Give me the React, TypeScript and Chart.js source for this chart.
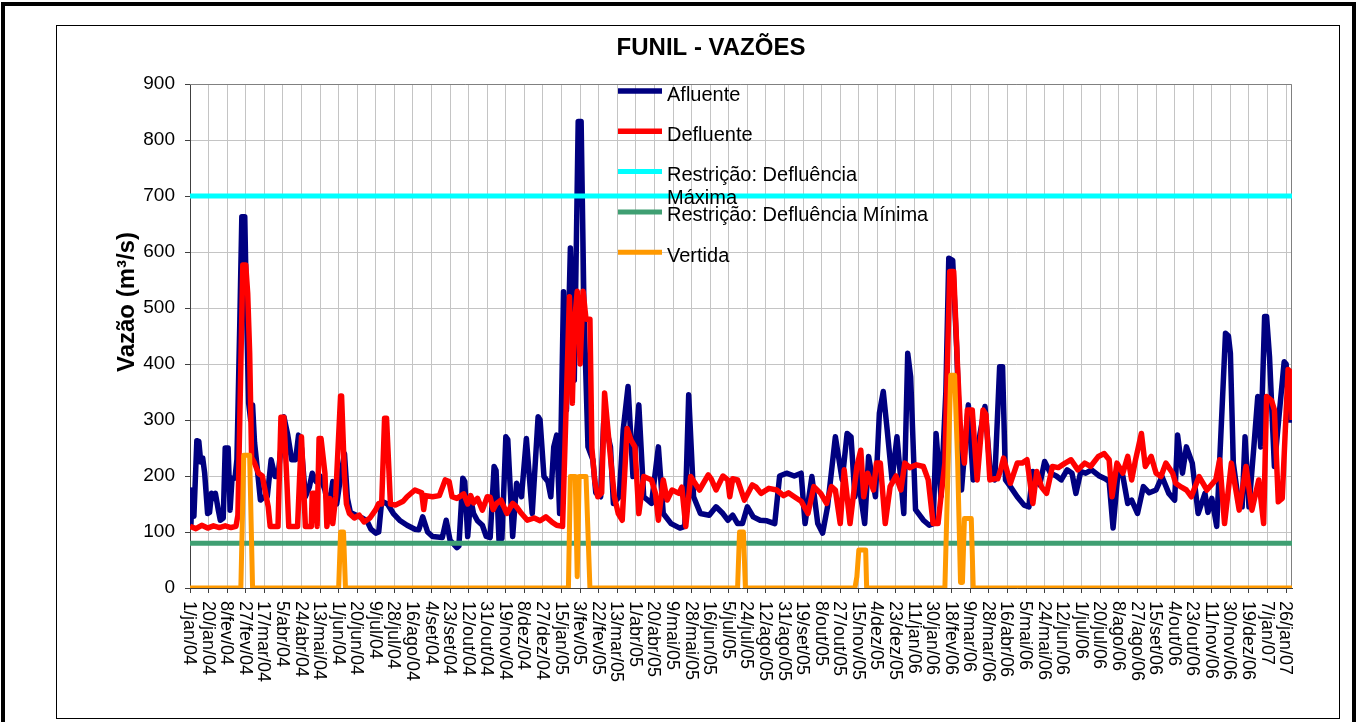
import React, { useEffect, useRef } from 'react';
import { Chart, registerables } from 'chart.js';

Chart.register(...registerables);

// ---------- DATA ----------
const TITLE = 'FUNIL - VAZÕES';
const Y_TITLE = 'Vazão (m³/s)';

const TICK_LABELS = [
  '1/jan/04', '20/jan/04', '8/fev/04', '27/fev/04', '17/mar/04', '5/abr/04', '24/abr/04', '13/mai/04',
  '1/jun/04', '20/jun/04', '9/jul/04', '28/jul/04', '16/ago/04', '4/set/04', '23/set/04', '12/out/04',
  '31/out/04', '19/nov/04', '8/dez/04', '27/dez/04', '15/jan/05', '3/fev/05', '22/fev/05', '13/mar/05',
  '1/abr/05', '20/abr/05', '9/mai/05', '28/mai/05', '16/jun/05', '5/jul/05', '24/jul/05', '12/ago/05',
  '31/ago/05', '19/set/05', '8/out/05', '27/out/05', '15/nov/05', '4/dez/05', '23/dez/05', '11/jan/06',
  '30/jan/06', '18/fev/06', '9/mar/06', '28/mar/06', '16/abr/06', '5/mai/06', '24/mai/06', '12/jun/06',
  '1/jul/06', '20/jul/06', '8/ago/06', '27/ago/06', '15/set/06', '4/out/06', '23/out/06', '11/nov/06',
  '30/nov/06', '19/dez/06', '7/jan/07', '26/jan/07',
];
const TICK_STEP_DAYS = 19; // one category label every 19 days (day 0 = 1/jan/04)
const LAST_DAY = 1127;

// Afluente (day index, m³/s)
const AFL_DAYS = [
  0, 1, 2, 4, 7, 9, 11, 13, 15, 18, 20, 22, 24, 26, 29, 31, 34, 36, 39, 41, 43, 46, 48, 51, 53, 56, 58, 60, 62, 64,
  66, 69, 72, 76, 79, 83, 87, 90, 93, 96, 100, 104, 108, 111, 114, 118, 122, 125, 129, 133, 138, 142, 146, 150, 155, 158,
  161, 164, 170, 176, 181, 185, 190, 193, 196, 202, 208, 215, 222, 230, 234, 238, 243, 248, 258, 262, 266, 270, 273, 275,
  279, 281, 284, 287, 290, 294, 299, 303, 307, 311, 313, 316, 319, 323, 325, 330, 334, 339, 344, 350, 356, 358, 362, 366,
  369, 372, 375, 378, 382, 385, 389, 393, 397, 400, 403, 407, 412, 415, 420, 423, 426, 430, 433, 439, 443, 448, 453, 459,
  464, 472, 479, 484, 492, 501, 506, 510, 515, 522, 531, 538, 545, 550, 555, 560, 565, 570, 576, 583, 590, 598, 603, 610,
  618, 625, 629, 636, 642, 647, 652, 660, 667, 672, 676, 680, 684, 686, 690, 694, 701, 705, 709, 713, 718, 723, 730, 734,
  737, 742, 750, 756, 760, 763, 768, 773, 776, 780, 784, 789, 796, 801, 808, 813, 818, 823, 828, 831, 834, 839, 846, 853,
  858, 862, 869, 874, 880, 886, 891, 897, 902, 906, 911, 916, 922, 930, 936, 940, 944, 949, 954, 959, 963, 969, 975, 981,
  988, 994, 1001, 1007, 1010, 1015, 1019, 1025, 1031, 1038, 1041, 1045, 1050, 1054, 1059, 1062, 1064, 1067, 1073, 1076,
  1079, 1083, 1088, 1092, 1095, 1099, 1101, 1104, 1109, 1114, 1119, 1121, 1124, 1127,
];
const AFL_VALS = [
  175, 115, 170, 128, 263, 262, 225, 232, 205, 133, 135, 169, 160, 169, 139, 121, 125, 250, 250, 139, 196, 196, 230, 480, 663, 663, 480, 330, 300, 327,
  260, 210, 157, 163, 163, 229, 199, 199, 250, 306, 273, 229, 229, 273, 250, 163, 180, 205, 190, 200, 175, 140, 190, 150, 210, 240,
  160, 135, 130, 125, 120, 105, 98, 100, 155, 150, 133, 120, 112, 105, 104, 127, 100, 92, 90, 121, 85, 78, 72, 75,
  196, 190, 92, 160, 133, 120, 112, 92, 90, 217, 210, 86, 88, 270, 265, 92, 187, 163, 267, 133, 306, 300, 199, 190,
  163, 252, 273, 133, 529, 318, 607, 371, 833, 833, 490, 252, 229, 170, 163, 294, 282, 252, 151, 163, 282, 360, 199, 327,
  163, 151, 252, 133, 115, 107, 110, 345, 163, 133, 130, 145, 133, 121, 130, 115, 115, 145, 127, 121, 120, 115, 200, 205,
  200, 205, 115, 199, 115, 98, 145, 270, 193, 276, 270, 163, 210, 163, 115, 235, 163, 312, 351, 282, 193, 270, 133, 419,
  377, 140, 121, 112, 115, 276, 163, 350, 589, 585, 431, 175, 327, 193, 276, 324, 217, 193, 395, 395, 193, 181, 163, 148,
  145, 208, 184, 226, 205, 200, 193, 211, 205, 169, 208, 205, 211, 200, 195, 190, 107, 205, 200, 151, 157, 133, 181, 170,
  175, 199, 169, 157, 273, 205, 252, 223, 133, 169, 135, 160, 110, 264, 455, 450, 419, 223, 145, 145,
  270, 145, 252, 342, 252, 485, 485, 413, 217, 312, 404, 400, 300, 300,
];

// Defluente (day index, m³/s)
const DEF_DAYS = [
  0, 6, 12, 18, 24, 30, 36, 42, 47, 49, 52, 54, 57, 59, 61, 63, 66, 70, 74, 76, 80, 82, 90, 93, 96, 99, 101, 110, 112, 114,
  116, 118, 124, 125, 128, 130, 132, 134, 138, 140, 143, 146, 149, 154, 155, 158, 160, 163, 168, 173, 178, 184, 190, 193, 196, 199,
  201, 205, 210, 218, 222, 230, 237, 239, 241, 248, 255, 261, 265, 268, 273, 280, 284, 287, 290, 294, 299, 304, 307, 310,
  313, 318, 324, 330, 334, 339, 345, 352, 358, 364, 370, 375, 381, 385, 388, 391, 393, 396, 399, 402, 405, 409, 411, 414,
  417, 421, 424, 429, 434, 438, 442, 447, 451, 455, 459, 464, 472, 476, 479, 484, 488, 493, 500, 503, 507, 512, 521, 530,
  533, 538, 545, 550, 552, 555, 560, 567, 575, 579, 584, 592, 600, 607, 612, 618, 625, 632, 638, 645, 651, 656, 660, 665,
  669, 675, 682, 686, 689, 693, 699, 702, 706, 711, 716, 722, 727, 731, 736, 743, 750, 755, 760, 765, 768, 772, 777, 781,
  785, 788, 792, 795, 800, 805, 811, 814, 818, 823, 826, 829, 832, 839, 846, 851, 856, 862, 866, 871, 876, 882, 888, 895,
  901, 908, 915, 921, 929, 935, 940, 943, 948, 954, 959, 963, 967, 973, 977, 983, 988, 993, 998, 1005, 1008, 1014, 1019, 1024,
  1032, 1040, 1049, 1053, 1058, 1065, 1073, 1080, 1086, 1093, 1098, 1101, 1106, 1109, 1113, 1117, 1120, 1123, 1126, 1127,
];
const DEF_VALS = [
  110, 106, 112, 107, 111, 108, 111, 108, 110, 130, 400, 577, 577, 526, 420, 233, 223, 205, 200, 181, 145, 110, 110, 305, 305, 193, 110, 110, 193, 270,
  190, 110, 110, 169, 169, 110, 267, 267, 205, 110, 160, 115, 163, 343, 343, 200, 150, 133, 125, 130, 118, 125, 140, 151, 150, 303,
  303, 150, 148, 155, 163, 175, 170, 140, 165, 163, 165, 193, 190, 163, 160, 168, 150, 165, 152, 160, 139, 163, 162, 140,
  150, 157, 133, 151, 145, 133, 121, 125, 120, 127, 118, 112, 110, 342, 520, 330, 470, 530, 400, 530, 480, 480, 250, 190,
  163, 170, 348, 252, 163, 133, 121, 285, 264, 252, 133, 199, 193, 169, 121, 193, 157, 175, 169, 180, 110, 199, 175, 202,
  195, 175, 200, 193, 163, 195, 193, 157, 184, 180, 169, 178, 175, 165, 170, 163, 155, 133, 181, 169, 151, 181, 175, 115,
  211, 115, 217, 246, 163, 205, 175, 223, 223, 115, 181, 200, 175, 223, 215, 220, 217, 193, 115, 115, 163, 223, 565, 565,
  393, 282, 223, 318, 318, 193, 318, 310, 193, 195, 195, 211, 232, 187, 223, 223, 229, 151, 208, 180, 169, 217, 215, 223,
  229, 211, 223, 217, 235, 240, 229, 163, 223, 205, 235, 193, 229, 276, 217, 235, 205, 199, 223, 205, 187, 180, 175, 163,
  199, 175, 193, 229, 115, 223, 139, 217, 139, 193, 115, 342, 335, 318, 154, 160, 276, 390, 385, 300,
];

// Restrições (m³/s)
const RESTR_MAX = 700;
const RESTR_MIN = 80;

// Vertida (day index, m³/s)
const VERT_DAYS = [
  0, 52, 55, 61, 64, 152, 154, 157, 159, 387, 389, 394, 396, 398, 405, 409, 560, 562, 566, 568,
  680, 682, 684, 691, 692, 772, 775, 778, 782, 785, 788, 790, 792, 799, 801, 1127,
];
const VERT_VALS = [
  0, 0, 237, 237, 0, 0, 100, 100, 0, 0, 199, 199, 20, 199, 199, 0, 0, 100, 100, 0,
  0, 20, 68, 68, 0, 0, 200, 380, 380, 229, 10, 10, 124, 124, 0, 0,
];

const LEGEND_LINES = [
  ['Afluente'],
  ['Defluente'],
  ['Restrição: Defluência', 'Máxima'],
  ['Restrição: Defluência Mínima'],
  ['Vertida'],
];

// ---------- STYLE ----------
const W = 1360;
const H = 722;
const FONT = '"Liberation Sans", Arial, sans-serif';
const PLOT = { left: 190, top: 84, right: 1292, bottom: 588 };

const toPoints = (days: number[], vals: number[]) => days.map((d, i) => ({ x: d, y: vals[i] }));

const decorPlugin = {
  id: 'decor',
  beforeDraw(chart: any) {
    const ctx = chart.ctx;
    ctx.save();
    ctx.fillStyle = '#ffffff';
    ctx.fillRect(0, 0, W, H);
    ctx.strokeStyle = '#000000';
    ctx.lineWidth = 4;
    ctx.strokeRect(3, 4, 1351, 722);
    ctx.lineWidth = 1;
    ctx.strokeRect(56.5, 25.5, 1283, 693);
    ctx.restore();
  },
  beforeDatasetsDraw(chart: any) {
    const { ctx, chartArea } = chart;
    ctx.save();
    ctx.strokeStyle = '#808080';
    ctx.lineWidth = 1;
    ctx.beginPath();
    ctx.moveTo(chartArea.left, chartArea.top + 0.5);
    ctx.lineTo(chartArea.right - 0.5, chartArea.top + 0.5);
    ctx.lineTo(chartArea.right - 0.5, chartArea.bottom);
    ctx.stroke();
    ctx.restore();
  },
  afterDraw(chart: any) {
    const ctx = chart.ctx;
    const xs = chart.scales.x;
    ctx.save();
    ctx.fillStyle = '#000000';
    ctx.font = `18px ${FONT}`;
    ctx.textAlign = 'left';
    ctx.textBaseline = 'middle';
    TICK_LABELS.forEach((lab, i) => {
      const x = xs.getPixelForValue(i * TICK_STEP_DAYS);
      ctx.save();
      ctx.translate(x - 1, chart.chartArea.bottom + 13);
      ctx.rotate(Math.PI / 2);
      ctx.fillText(lab, 0, 0);
      ctx.restore();
    });
    ctx.font = `bold 24px ${FONT}`;
    ctx.textAlign = 'center';
    ctx.textBaseline = 'alphabetic';
    ctx.fillText(TITLE, 711, 55);
    ctx.save();
    ctx.translate(127, 302);
    ctx.rotate(-Math.PI / 2);
    ctx.textBaseline = 'middle';
    ctx.fillText(Y_TITLE, 0, 0);
    ctx.restore();
    const ds = chart.data.datasets;
    ctx.font = `20px ${FONT}`;
    ctx.textAlign = 'left';
    ctx.textBaseline = 'alphabetic';
    LEGEND_LINES.forEach((lines, i) => {
      const y = 91 + i * 40.3;
      ctx.strokeStyle = ds[i].borderColor;
      ctx.lineWidth = ds[i].borderWidth;
      ctx.lineCap = 'butt';
      ctx.beginPath();
      ctx.moveTo(618, y);
      ctx.lineTo(662, y);
      ctx.stroke();
      lines.forEach((t, j) => ctx.fillText(t, 667, y + 9.5 + j * 23));
    });
    ctx.restore();
  },
};

export default function App() {
  const ref = useRef<HTMLCanvasElement | null>(null);
  useEffect(() => {
    if (!ref.current) return;
    const common = { pointRadius: 0, pointHoverRadius: 0, tension: 0, borderJoinStyle: 'round' as const, fill: false };
    const chart = new Chart(ref.current, {
      type: 'line',
      data: {
        datasets: [
          { label: 'Afluente', data: toPoints(AFL_DAYS, AFL_VALS), borderColor: '#000080', borderWidth: 5.5, order: 5, ...common },
          { label: 'Defluente', data: toPoints(DEF_DAYS, DEF_VALS), borderColor: '#ff0000', borderWidth: 5.5, order: 4, ...common },
          { label: 'Restrição: Defluência Máxima', data: [{ x: 0, y: RESTR_MAX }, { x: LAST_DAY, y: RESTR_MAX }], borderColor: '#00ffff', borderWidth: 5, order: 3, ...common },
          { label: 'Restrição: Defluência Mínima', data: [{ x: 0, y: RESTR_MIN }, { x: LAST_DAY, y: RESTR_MIN }], borderColor: '#3f9f72', borderWidth: 5, order: 2, ...common },
          { label: 'Vertida', data: toPoints(VERT_DAYS, VERT_VALS), borderColor: '#ff9900', borderWidth: 5, order: 1, ...common },
        ],
      },
      options: {
        animation: false,
        responsive: false,
        devicePixelRatio: 1,
        layout: { padding: { left: 0, top: PLOT.top, right: W - PLOT.right, bottom: 0 } },
        plugins: { legend: { display: false }, title: { display: false }, tooltip: { enabled: false } },
        scales: {
          x: {
            type: 'linear',
            min: 0,
            max: LAST_DAY,
            afterBuildTicks: (axis: any) => {
              axis.ticks = TICK_LABELS.map((_, i) => ({ value: i * TICK_STEP_DAYS }));
            },
            afterFit: (axis: any) => { axis.height = H - PLOT.bottom; },
            ticks: { display: false },
            grid: { color: '#c4c4c4', lineWidth: 1, tickLength: 5, tickColor: '#404040', drawTicks: true },
            border: { color: '#404040', width: 1 },
          },
          y: {
            min: 0,
            max: 900,
            afterFit: (axis: any) => { axis.width = PLOT.left; },
            ticks: { stepSize: 100, color: '#000000', padding: 10, font: { family: FONT, size: 19 } },
            grid: { color: '#c4c4c4', lineWidth: 1, tickLength: 5, tickColor: '#404040', drawTicks: true },
            border: { color: '#404040', width: 1 },
          },
        },
      },
      plugins: [decorPlugin],
    });
    return () => chart.destroy();
  }, []);
  return (
    <div style={{ position: 'fixed', left: 0, top: 0, width: W, height: H, background: '#fff' }}>
      <canvas ref={ref} width={W} height={H} style={{ display: 'block' }} />
    </div>
  );
}
